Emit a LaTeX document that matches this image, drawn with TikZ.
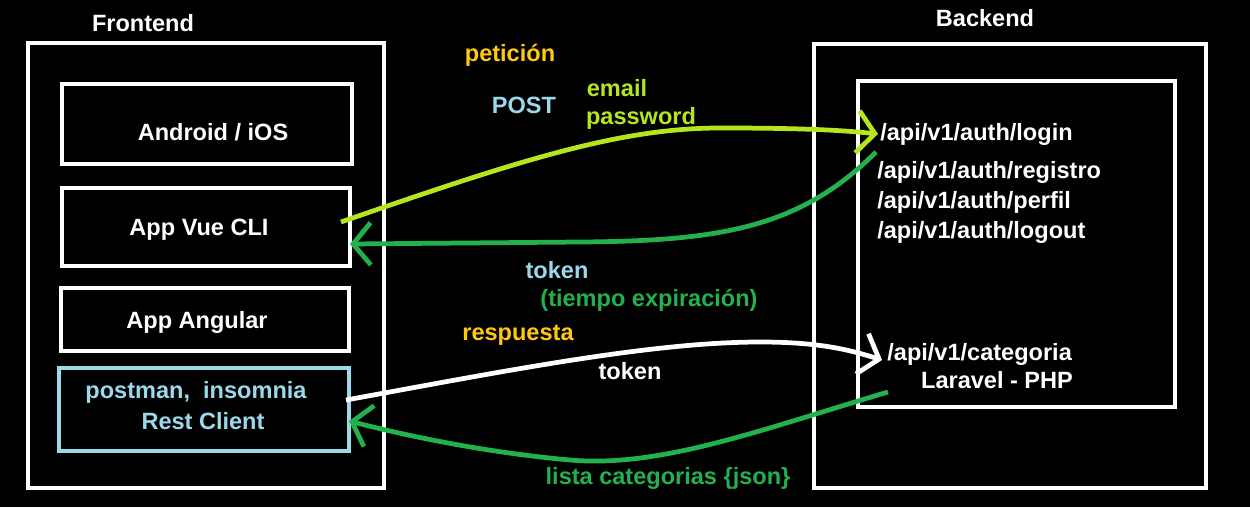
\documentclass[tikz,border=0pt]{standalone}
\usepackage{fontspec}
\setmainfont{Liberation Sans}
\usetikzlibrary{arrows.meta}
\definecolor{lime}{HTML}{B5E61D}
\definecolor{pgreen}{HTML}{22B14C}
\definecolor{gold}{HTML}{FFC90E}
\definecolor{lblue}{HTML}{99D9EA}
\begin{document}
\begin{tikzpicture}[x=0.02cm,y=-0.02cm,
  box/.style={draw=white,line width=2.4pt},
  lbl/.style={font=\fontsize{13.4}{15}\selectfont\bfseries,inner sep=0pt},
  wl/.style={lbl,text=white},
  conn/.style={line width=2.7pt,-{Straight Barb[length=10pt,width=24pt]}}]
\fill[black] (0,0) rectangle (1250,507);
\useasboundingbox (0,0) rectangle (1250,507);
% boxes
\node[box,minimum width=356*0.02cm,minimum height=445*0.02cm] (front) at (206,265.5) {};
\node[box,minimum width=290*0.02cm,minimum height=80*0.02cm] (android) at (207,124) {};
\node[box,minimum width=288*0.02cm,minimum height=78*0.02cm] (vue) at (206,227) {};
\node[box,minimum width=288*0.02cm,minimum height=63*0.02cm] (angular) at (205,319.5) {};
\node[box,draw=lblue,minimum width=290*0.02cm,minimum height=83*0.02cm] (postman) at (204,409.5) {};
\node[box,minimum width=392*0.02cm,minimum height=444*0.02cm] (back) at (1010,266) {};
\node[box,minimum width=317*0.02cm,minimum height=326*0.02cm] (inner) at (1016.5,244) {};
% titles
\node[wl] (tfront) at (143,23) {Frontend};
\node[wl] (tback) at (985,18) {Backend};
% box labels
\node[wl] (landroid) at (213,132) {Android / iOS};
\node[wl] (lvue) at (199,230) {App Vue CLI};
\node[wl] (langular) at (197,322) {App Angular};
\node[lbl,text=lblue] (lpostman) at (196,392) {postman,\ \ insomnia};
\node[lbl,text=lblue] (lrest) at (203,421) {Rest Client};
% backend labels
\node[wl,anchor=west] (login) at (880,134) {/api/v1/auth/login};
\node[wl,anchor=west] (registro) at (877,172) {/api/v1/auth/registro};
\node[wl,anchor=west] (perfil) at (877,202) {/api/v1/auth/perfil};
\node[wl,anchor=west] (logout) at (877,232) {/api/v1/auth/logout};
\node[wl,anchor=west] (categoria) at (887,354) {/api/v1/categoria};
\node[wl] (laravel) at (997,380) {Laravel - PHP};
% middle labels
\node[lbl,text=gold] (peticion) at (510,55) {petición};
\node[lbl,text=lblue] (post) at (524,105) {POST};
\node[lbl,text=lime] (email) at (617,88) {email};
\node[lbl,text=lime] (password) at (641,118) {password};
\node[lbl,text=lblue] (token1) at (557,270) {token};
\node[lbl,text=pgreen] (tiempo) at (649,300) {(tiempo expiración)};
\node[lbl,text=gold] (respuesta) at (518,335) {respuesta};
\node[wl] (token2) at (630,371) {token};
\node[lbl,text=pgreen] (lista) at (668,478) {lista categorias \{json\}};
% connector ends
\coordinate (vueOut) at (341,222);
\coordinate (loginIn) at ([xshift=-2*0.02cm]login.west);
\coordinate (loginOut) at (876,152);
\coordinate (vueIn) at (350,244);
\coordinate (postOut) at (346,400);
\coordinate (catIn) at (882,360);
\coordinate (catOut) at (888,392);
\coordinate (postIn) at (349,421);
% connectors
\draw[conn,lime] (vueOut) .. controls (520,160) and (620,128) .. (720,128) .. controls (800,128) and (840,130) .. (loginIn);
\draw[conn,pgreen] (loginOut) .. controls (800,228) and (720,241) .. (580,242) -- (vueIn);
\draw[conn,white] (postOut) .. controls (500,372) and (650,342) .. (760,342) .. controls (820,342) and (850,350) .. (catIn);
\draw[conn,pgreen] (catOut) .. controls (760,430) and (660,468) .. (570,460) .. controls (480,452) and (400,434) .. (postIn);
\end{tikzpicture}
\end{document}
